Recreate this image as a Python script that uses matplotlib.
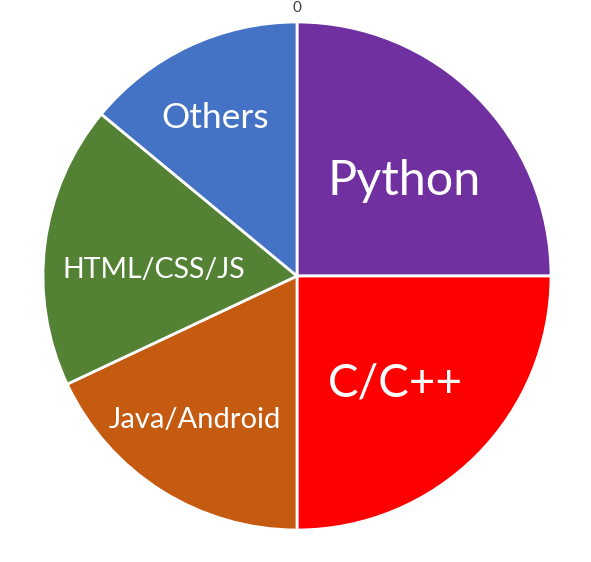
import matplotlib.pyplot as plt

labels = ['Python', 'C/C++', 'Java/Android', 'HTML/CSS/JS', 'Others']
shares = [25, 25, 18, 18, 14]
colors = ['#7030A0', '#FF0000', '#C55A11', '#548235', '#4472C4']
label_sizes = [35, 33, 21, 20.5, 25.5]
# label anchors (centre, baseline) in units of the pie radius
label_xy = [(0.421, 0.319), (0.386, -0.476), (-0.402, -0.598),
            (-0.563, -0.008), (-0.321, 0.583)]

fig = plt.figure(figsize=(5.91, 5.62), dpi=100)
ax = fig.add_axes([43 / 591, 32 / 562, 508 / 591, 508 / 562])

wedges, _ = ax.pie(shares, colors=colors, startangle=90, counterclock=False,
                   radius=1, wedgeprops=dict(edgecolor='white', linewidth=2))

for lab, size, (x, y) in zip(labels, label_sizes, label_xy):
    ax.text(x, y, lab, color='white', fontsize=size, family='Lato',
            ha='center', va='baseline')

ax.set_xlim(-1, 1)
ax.set_ylim(-1, 1)
ax.set_aspect('equal')
ax.axis('off')

fig.text(297 / 591, 1 - 8 / 562, '0', ha='center', va='center',
         fontsize=11, color='#404040', family='Lato')

fig.savefig('out.png', dpi=100)
